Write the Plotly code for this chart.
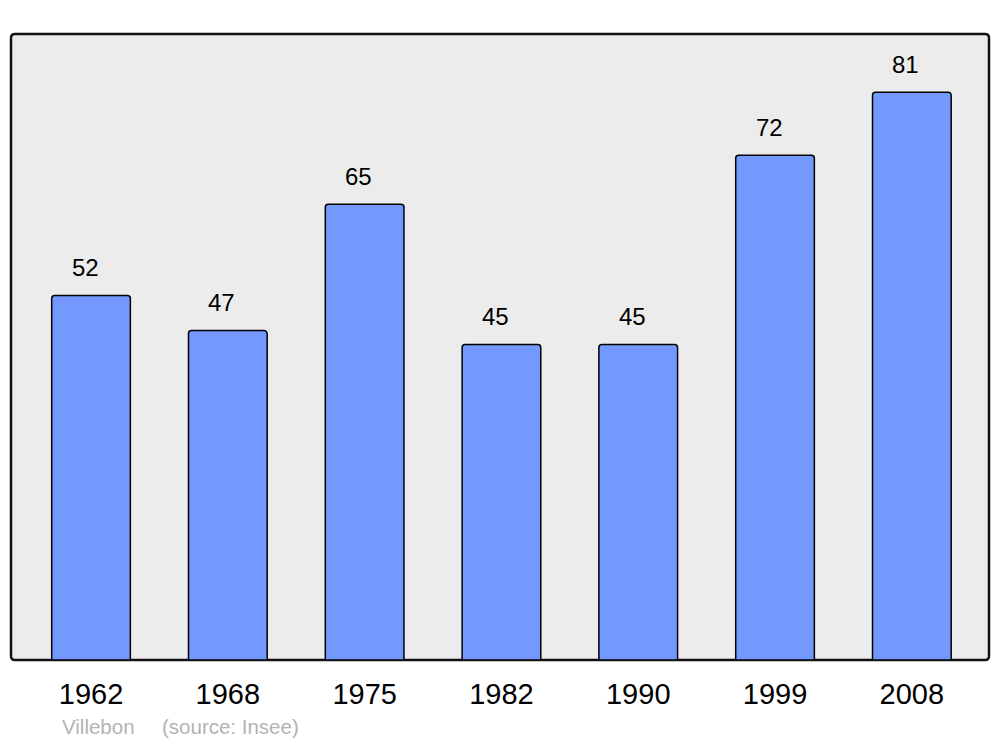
import plotly.graph_objects as go

years = ["1962", "1968", "1975", "1982", "1990", "1999", "2008"]
population = [52, 47, 65, 45, 45, 72, 81]
place = "Villebon"
source = "(source: Insee)"

FONT = "Liberation Sans, Arial, sans-serif"
OFF = 8  # page body margin
W, H = 1000 - 2 * OFF, 747 - 2 * OFF
# plot frame in window pixels: x 11..989, y 34..660
L, T = 11 - OFF, 34 - OFF
R = W - (989 - OFF)
B = H - (660 - OFF)
pw, ph = W - L - R, H - T - B

idx = list(range(len(years)))

fig = go.Figure()
fig.add_trace(go.Bar(
    x=idx, y=population,
    width=0.575,
    marker=dict(color="#7399ff", line=dict(color="black", width=1.5), cornerradius=3),
    hovertext=years, hoverinfo="text+y",
))

for i, v in zip(idx, population):
    fig.add_annotation(x=i, y=v, text=str(v), showarrow=False,
                       yanchor="middle", yshift=28, xshift=-6,
                       font=dict(family=FONT, size=24, color="black"))

# rounded frame
rx, ry = 4 / pw, 4 / ph
path = (f"M {rx},0 L {1-rx},0 Q 1,0 1,{ry} L 1,{1-ry} Q 1,1 {1-rx},1 "
        f"L {rx},1 Q 0,1 0,{1-ry} L 0,{ry} Q 0,0 {rx},0 Z")
fig.add_shape(type="path", path=path, xref="paper", yref="paper",
              fillcolor="#ececec", line=dict(color="#111111", width=2.5), layer="below")

for txt, px in [(place, 61), (source, 161)]:
    fig.add_annotation(x=(px - 11) / pw, y=(660 - 726) / ph, xref="paper", yref="paper",
                       text=txt, showarrow=False, xanchor="left", yanchor="middle",
                       borderpad=0,
                       font=dict(family=FONT, size=20.5, color="#b3b3b3"))

fig.update_layout(
    width=W, height=H,
    margin=dict(l=L, r=R, t=T, b=B),
    paper_bgcolor="white",
    plot_bgcolor="rgba(0,0,0,0)",
    showlegend=False,
    font=dict(family=FONT),
)
fig.update_xaxes(range=[-0.585, 6.564], showgrid=False, zeroline=False,
                 showline=False, ticks="", ticklabelstandoff=14,
                 tickmode="array", tickvals=idx, ticktext=years,
                 tickfont=dict(family=FONT, size=29, color="black"))
fig.update_yaxes(range=[0, 89.3], showgrid=False, zeroline=False, showline=False,
                 showticklabels=False, ticks="")

fig.write_html("out.html")
